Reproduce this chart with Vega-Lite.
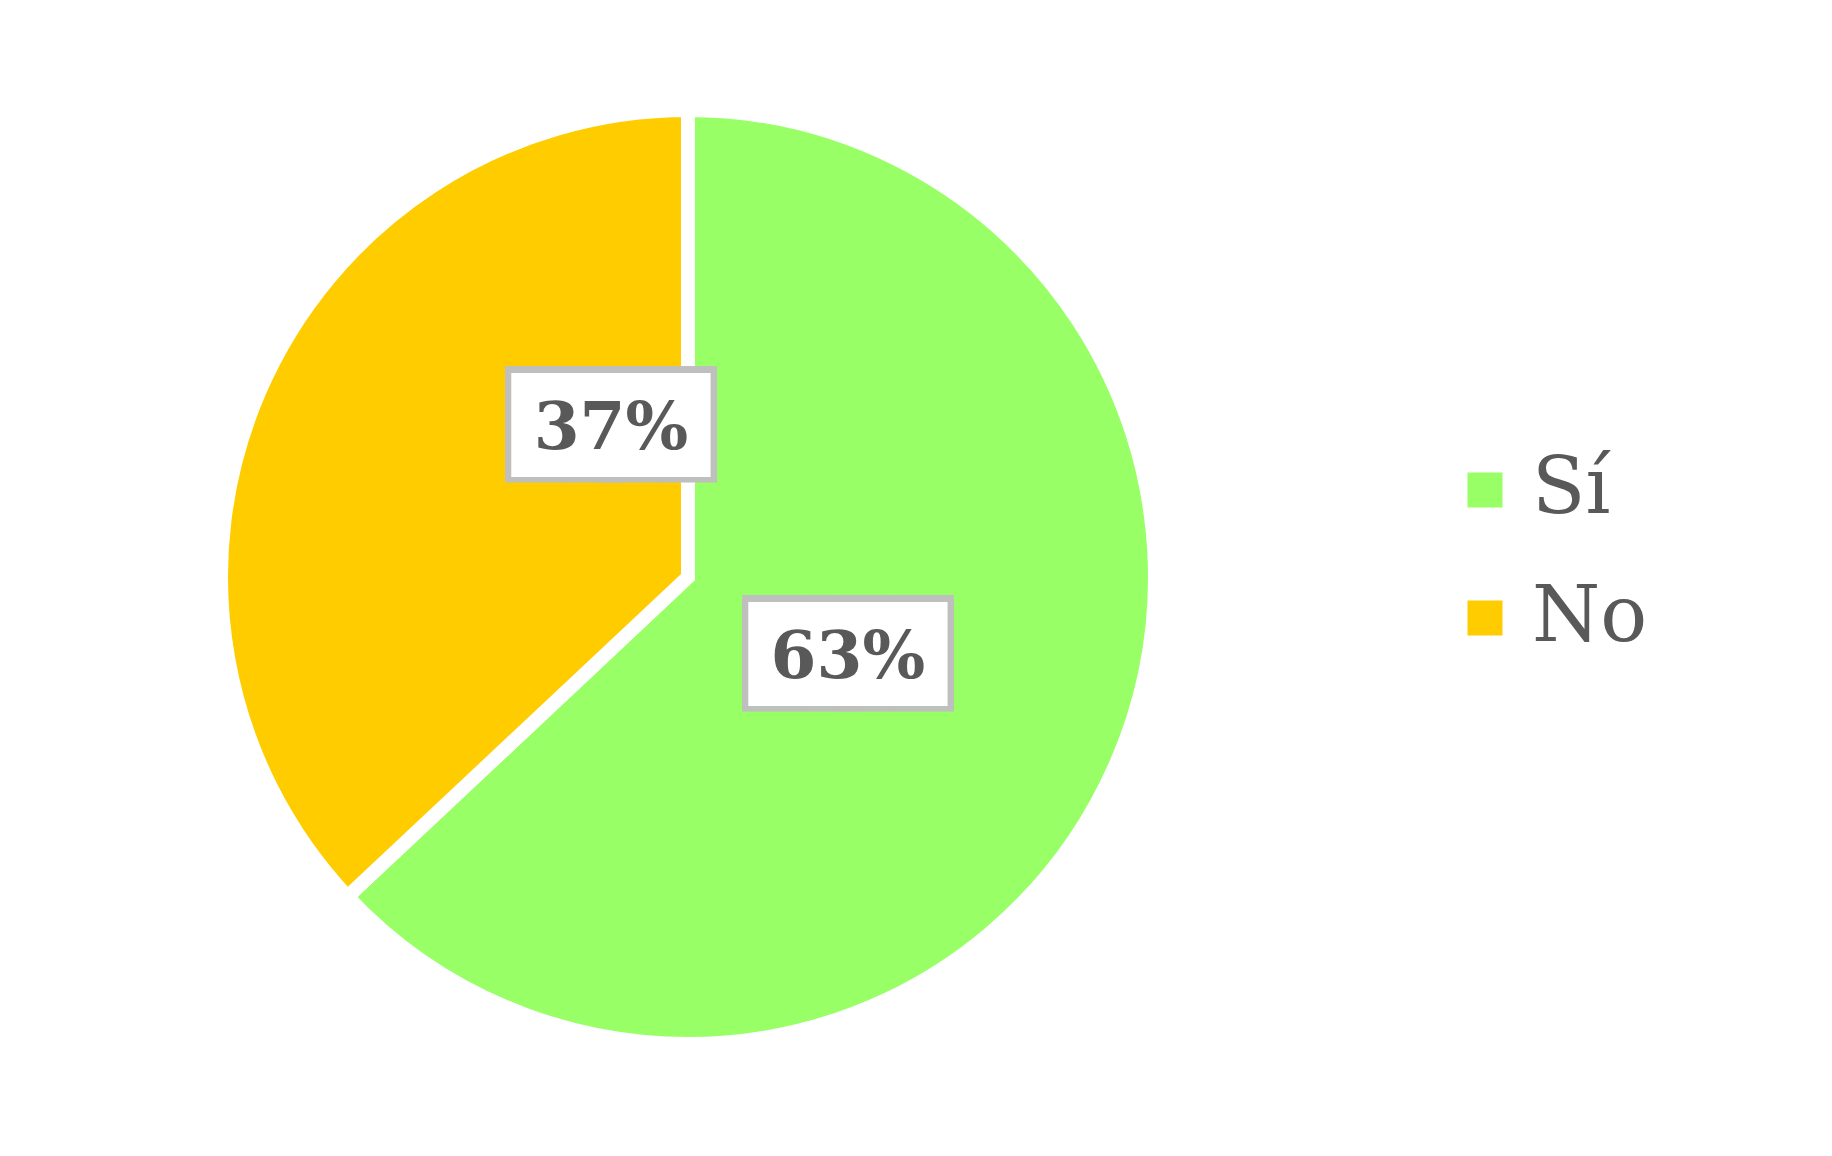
{
  "$schema": "https://vega.github.io/schema/vega-lite/v6.json",
  "autosize": {"type": "none"},
  "width": 1376,
  "height": 1154,
  "padding": {"left": 0, "top": 0, "right": 456, "bottom": 2},
  "background": "white",
  "config": {"view": {"stroke": null}},
  "data": {"values": [
    {"answer": "Sí", "value": 63, "label": "63%"},
    {"answer": "No", "value": 37, "label": "37%"}
  ]},
  "encoding": {
    "theta": {"field": "value", "type": "quantitative", "stack": true},
    "order": {"field": "value", "type": "quantitative", "sort": "descending"}
  },
  "layer": [
    {
      "mark": {"type": "arc", "outerRadius": 467, "stroke": "white", "strokeWidth": 14, "strokeJoin": "miter"},
      "encoding": {
        "color": {
          "field": "answer", "type": "nominal",
          "scale": {"domain": ["Sí", "No"], "range": ["#99FF66", "#FFCC00"]},
          "legend": {
            "orient": "none", "legendX": 1446, "legendY": 451,
            "title": null, "padding": 0,
            "symbolType": "square", "symbolSize": 1225, "symbolStrokeWidth": 0, "symbolOpacity": 1,
            "labelFont": "DejaVu Serif", "labelFontSize": 78, "labelColor": "#595959",
            "labelOffset": 8, "rowPadding": 50, "labelLimit": 400
          }
        }
      }
    },
    {"mark": {"type": "text", "radius": 177, "thetaOffset": 0.035, "font": "DejaVu Sans Mono", "fontSize": 98, "color": "#BFBFBF", "dx": -46, "dy": 5, "baseline": "middle", "align": "center"},
     "encoding": {"text": {"condition": {"test": "datum.answer === 'Sí'", "value": "██"}, "value": ""}}},
    {"mark": {"type": "text", "radius": 177, "thetaOffset": 0.035, "font": "DejaVu Sans Mono", "fontSize": 98, "color": "#BFBFBF", "dx": 46, "dy": 5, "baseline": "middle", "align": "center"},
     "encoding": {"text": {"condition": {"test": "datum.answer === 'Sí'", "value": "██"}, "value": ""}}},
    {"mark": {"type": "text", "radius": 177, "thetaOffset": 0.035, "font": "DejaVu Sans Mono", "fontSize": 87.6, "color": "white", "dx": -46, "dy": 5, "baseline": "middle", "align": "center"},
     "encoding": {"text": {"condition": {"test": "datum.answer === 'Sí'", "value": "██"}, "value": ""}}},
    {"mark": {"type": "text", "radius": 177, "thetaOffset": 0.035, "font": "DejaVu Sans Mono", "fontSize": 87.6, "color": "white", "dx": 46, "dy": 5, "baseline": "middle", "align": "center"},
     "encoding": {"text": {"condition": {"test": "datum.answer === 'Sí'", "value": "██"}, "value": ""}}},
    {"mark": {"type": "text", "radius": 177, "thetaOffset": 0.035, "font": "DejaVu Serif", "fontWeight": "bold", "fontSize": 66, "color": "#595959", "dy": 5, "baseline": "middle", "align": "center"},
     "encoding": {"text": {"condition": {"test": "datum.answer === 'Sí'", "field": "label"}, "value": ""}}},
    {"mark": {"type": "text", "radius": 171, "thetaOffset": 0.695, "font": "DejaVu Sans Mono", "fontSize": 98, "color": "#BFBFBF", "dx": -46, "dy": 5, "baseline": "middle", "align": "center"},
     "encoding": {"text": {"condition": {"test": "datum.answer === 'No'", "value": "██"}, "value": ""}}},
    {"mark": {"type": "text", "radius": 171, "thetaOffset": 0.695, "font": "DejaVu Sans Mono", "fontSize": 98, "color": "#BFBFBF", "dx": 46, "dy": 5, "baseline": "middle", "align": "center"},
     "encoding": {"text": {"condition": {"test": "datum.answer === 'No'", "value": "██"}, "value": ""}}},
    {"mark": {"type": "text", "radius": 171, "thetaOffset": 0.695, "font": "DejaVu Sans Mono", "fontSize": 87.6, "color": "white", "dx": -46, "dy": 5, "baseline": "middle", "align": "center"},
     "encoding": {"text": {"condition": {"test": "datum.answer === 'No'", "value": "██"}, "value": ""}}},
    {"mark": {"type": "text", "radius": 171, "thetaOffset": 0.695, "font": "DejaVu Sans Mono", "fontSize": 87.6, "color": "white", "dx": 46, "dy": 5, "baseline": "middle", "align": "center"},
     "encoding": {"text": {"condition": {"test": "datum.answer === 'No'", "value": "██"}, "value": ""}}},
    {"mark": {"type": "text", "radius": 171, "thetaOffset": 0.695, "font": "DejaVu Serif", "fontWeight": "bold", "fontSize": 66, "color": "#595959", "dy": 5, "baseline": "middle", "align": "center"},
     "encoding": {"text": {"condition": {"test": "datum.answer === 'No'", "field": "label"}, "value": ""}}}
  ]
}
